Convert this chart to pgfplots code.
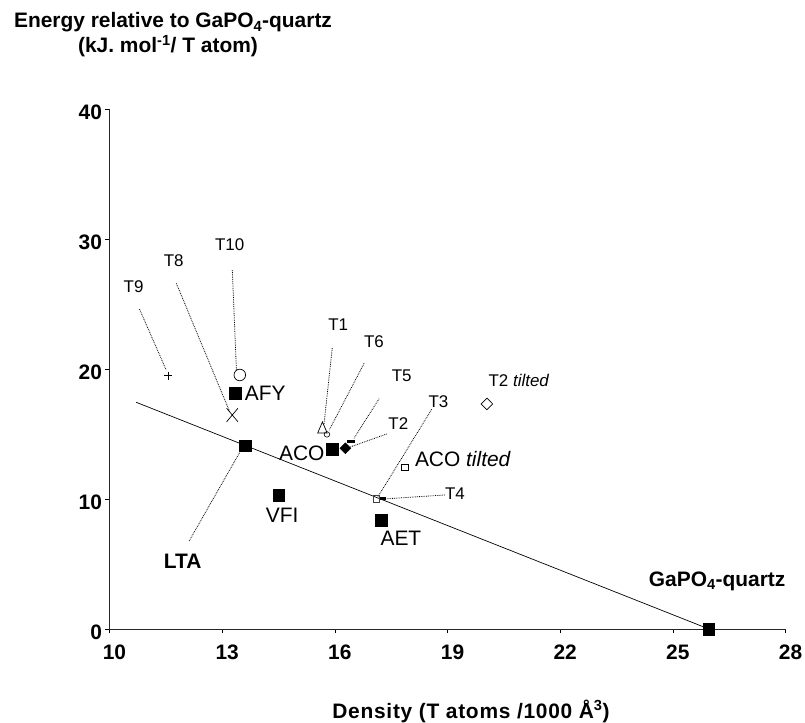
\documentclass[border=0pt]{standalone}
\usepackage{fontspec}
\setmainfont{Liberation Sans}
\usepackage{pgfplots}
\pgfplotsset{compat=1.18}
\newcommand{\tl}{\fontsize{17}{17}\selectfont}
\newcommand{\bl}{\fontsize{21}{21}\selectfont}
\newcommand{\ttl}{\fontsize{21}{21}\selectfont\bfseries}
\begin{document}
\begin{tikzpicture}
\begin{axis}[
 scale only axis, width=676bp, height=520bp,
 xmin=10, xmax=28, ymin=0, ymax=40,
 axis lines=left, axis line style={-, line width=0.8pt, black!85},
 xtick={10,13,16,19,22,25,28}, xticklabels={10,13,16,19,22,25,28},
 ytick={0,10,20,30,40}, yticklabels={0,10,20,30,40},
 tick align=outside, major tick length=4bp, tick style={black, line width=0.6pt},
 ticklabel style={font=\fontsize{21}{21}\selectfont\bfseries},
 xticklabel style={yshift=-8bp, xshift=5bp},
 yticklabel style={xshift=0bp, yshift=-3bp},
 clip=false,
]
\coordinate (O) at (rel axis cs:0,0);
% trend line
\addplot[black, line width=0.7pt] coordinates {(10.71,17.44) (25.96,0)};
% leader lines
\addplot[black, densely dotted, line width=0.8pt] coordinates {(10.8,24.6) (11.51,19.92)};
\addplot[black, densely dotted, line width=0.8pt] coordinates {(11.78,26.59) (13.2,16.72)};
\addplot[black, densely dotted, line width=0.8pt] coordinates {(13.27,27.6) (13.38,19.92)};
\addplot[black, densely dotted, line width=0.8pt] coordinates {(15.93,21.6) (15.71,15.7)};
\addplot[black, densely dotted, line width=0.8pt] coordinates {(16.78,20.44) (15.85,15.3)};
\addplot[black, densely dotted, line width=0.8pt] coordinates {(17.18,17.72) (16.51,14.67)};
\addplot[black, densely dotted, line width=0.8pt] coordinates {(17.38,15.0) (16.36,13.95)};
\addplot[black, densely dotted, line width=0.8pt] coordinates {(18.58,16.9) (17.15,10.18)};
\addplot[black, densely dotted, line width=0.8pt] coordinates {(18.93,10.31) (17.29,10.0)};
\addplot[black, densely dotted, line width=0.8pt] coordinates {(12.12,6.77) (13.47,13.6)};
% framework squares
\addplot[only marks, mark=square*, mark size=5.8bp, black] coordinates {(13.62,14.1) (13.35,18.13) (14.51,10.28) (17.23,8.36) (15.93,13.82) (25.96,0)};
% T sites
\addplot[only marks, mark=+, mark size=4bp, black, line width=0.6pt] coordinates {(11.57,19.49)};
\addplot[only marks, mark=x, mark size=8bp, black, line width=0.7pt, mark options={yscale=1.2}] coordinates {(13.27,16.46)};
\addplot[only marks, mark=o, mark size=5.8bp, black, line width=0.7pt] coordinates {(13.47,19.54)};
\addplot[only marks, mark=triangle, mark size=5.5bp, black, line width=0.7pt, mark options={yscale=1.35}] coordinates {(15.67,15.36)};
\addplot[only marks, mark=o, mark size=2.8bp, black, line width=0.6pt] coordinates {(15.79,14.97)};
\addplot[only marks, mark=diamond*, mark size=5.5bp, black, mark options={xscale=1.33}] coordinates {(16.28,13.9)};
\addplot[only marks, mark=-, mark size=4bp, black, line width=3bp] coordinates {(16.42,14.46)};
\addplot[only marks, mark=diamond, mark size=5.8bp, black, line width=0.7pt, mark options={xscale=1.33}] coordinates {(20.05,17.31)};
\addplot[only marks, mark=square, mark size=3.3bp, black, line width=0.7pt] coordinates {(17.86,12.44)};
\addplot[only marks, mark=square, mark size=3.3bp, black!75, line width=0.9pt] coordinates {(17.11,10.0)};
\addplot[only marks, mark=-, mark size=3bp, black, line width=2.5bp] coordinates {(17.29,10.02)};
% labels
\node[font=\tl, inner sep=0pt] at (axis cs:10.64,26.33) {T9};
\node[font=\tl, inner sep=0pt] at (axis cs:11.71,28.33) {T8};
\node[font=\tl, inner sep=0pt] at (axis cs:13.2,29.54) {T10};
\node[font=\tl, inner sep=0pt] at (axis cs:16.09,23.38) {T1};
\node[font=\tl, inner sep=0pt] at (axis cs:17.04,22.1) {T6};
\node[font=\tl, inner sep=0pt] at (axis cs:17.78,19.46) {T5};
\node[font=\tl, inner sep=0pt] at (axis cs:17.69,15.77) {T2};
\node[font=\tl, inner sep=0pt] at (axis cs:18.76,17.49) {T3};
\node[font=\tl, inner sep=0pt] at (axis cs:19.2,10.38) {T4};
\node[font=\tl, inner sep=0pt, anchor=west] at (axis cs:20.09,19.15) {T2 \textit{tilted}};
\node[font=\bl, inner sep=0pt, anchor=west] at (axis cs:18.13,13.05) {ACO \textit{tilted}};
\node[font=\bl, inner sep=0pt, anchor=east] at (axis cs:15.73,13.5) {ACO};
\node[font=\bl, inner sep=0pt, anchor=west] at (axis cs:13.6,18.13) {AFY};
\node[font=\bl, inner sep=0pt] at (axis cs:14.6,8.77) {VFI};
\node[font=\bl, inner sep=0pt] at (axis cs:17.76,6.98) {AET};
\node[font=\ttl, inner sep=0pt] at (axis cs:11.95,5.23) {LTA};
\node[font=\ttl, inner sep=0pt] at (axis cs:26.18,3.64) {GaPO\textsubscript{4}-quartz};
\end{axis}
\node[anchor=base, font=\ttl] at ([shift={(63.5bp,601bp)}]O) {Energy relative to GaPO\textsubscript{4}-quartz};
\node[anchor=base, font=\ttl] at ([shift={(58.5bp,576bp)}]O) {(kJ. mol\textsuperscript{-1}/ T atom)};
\node[anchor=base, font=\fontsize{21}{21}\selectfont\bfseries\addfontfeatures{LetterSpace=3.5}] at ([shift={(361.5bp,-89bp)}]O) {Density (T atoms /1000 Å\textsuperscript{3})};
\pgfresetboundingbox
\path[use as bounding box] ([shift={(-109.5bp,-94bp)}]O) rectangle ++(805bp,723bp);
\end{tikzpicture}
\end{document}
